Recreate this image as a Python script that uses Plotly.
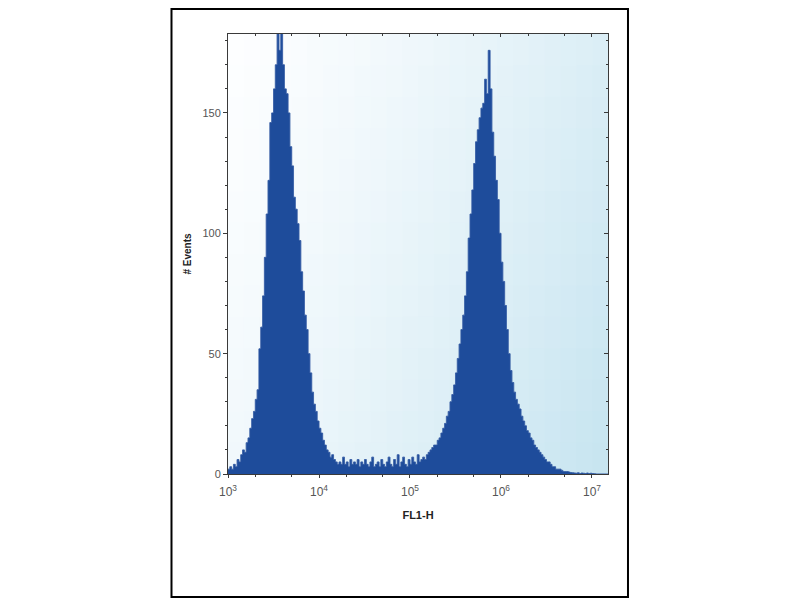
import numpy as np
import plotly.graph_objects as go

# ---------------- data ----------------
# histogram counts in log-spaced bins, 0.02 decade wide, starting at 10^3
bin_start_exp = 3.0
bin_step_exp = 0.02
counts = [
    2, 3, 2, 4, 3, 6, 5, 8, 10, 9,
    13, 15, 19, 23, 26, 31, 35, 52, 61, 74,
    90, 108, 122, 146, 150, 160, 170, 190, 176, 188,
    170, 160, 158, 150, 136, 128, 115, 110, 104, 97,
    84, 76, 66, 60, 50, 42, 34, 29, 26, 22,
    19, 17, 14, 12, 10, 9, 7, 8, 6, 5,
    4, 5, 4, 7, 4, 5, 3, 6, 4, 5,
    4, 6, 3, 5, 4, 6, 4, 3, 5, 7,
    3, 4, 5, 3, 6, 4, 3, 5, 7, 4,
    3, 6, 4, 8, 3, 5, 7, 4, 3, 6,
    4, 7, 5, 4, 8, 5, 6, 7, 6, 8,
    9, 10, 11, 12, 12, 14, 15, 17, 19, 21,
    24, 26, 30, 33, 37, 42, 48, 54, 60, 66,
    74, 84, 98, 108, 118, 129, 138, 143, 148, 152,
    154, 164, 158, 176, 160, 142, 132, 122, 114, 100,
    88, 80, 70, 60, 50, 43, 38, 34, 31, 29,
    27, 24, 22, 20, 18, 17, 15, 14, 12, 11,
    10, 9, 8, 7, 6, 5, 5, 4, 3, 3,
    2, 2, 2, 1.5, 1, 1, 1, 0.8, 0.6, 0.5,
    0.4, 0.3, 0.5, 0.2, 0.4, 0.3, 0.2, 0.4, 0.2, 0.3,
    0.2, 0.1, 0, 0, 0, 0, 0, 0, 0,
]
x_tick_exps = [3, 4, 5, 6, 7]
x_tick_labels = ["10<sup>3</sup>", "10<sup>4</sup>", "10<sup>5</sup>",
                 "10<sup>6</sup>", "10<sup>7</sup>"]
y_tick_vals = [0, 50, 100, 150]
x_title = "FL1-H"
y_title = "# Events"

# ---------------- build step histogram ----------------
n = len(counts)
edges = 10 ** (bin_start_exp + bin_step_exp * np.arange(n + 1))
xs = list(edges)
ys = list(counts) + [counts[-1]]

X_RANGE = [3.0, 7.176]
Y_RANGE = [0, 182.8]
FILL = "#1e4c9b"
AX = "#3a3a3a"
FONT = "Liberation Sans, Arial, sans-serif"

fig = go.Figure()
fig.add_trace(go.Scatter(
    x=xs, y=ys, mode="lines", line=dict(shape="hv", width=0.6, color=FILL),
    fill="tozeroy", fillcolor=FILL, hoverinfo="skip", showlegend=False,
))
fig.add_trace(go.Scatter(
    x=xs, y=ys, mode="lines", line=dict(shape="hv", width=0.5, color="#3f62a8"),
    xaxis="x2", yaxis="y2", hoverinfo="skip", showlegend=False,
))

# ---------------- background gradient (style only) ----------------
shapes = []
NU, NV = 24, 14
c0 = np.array([253, 254, 255])
c1 = np.array([198, 228, 240])
for i in range(NU):
    for j in range(NV):
        u = (i + 0.5) / NU
        v = (j + 0.5) / NV
        t = (0.7 * u + 0.3 * v) ** 1.3
        c = (c0 + (c1 - c0) * t).round().astype(int)
        shapes.append(dict(
            type="rect", xref="x domain", yref="y domain", layer="below",
            x0=i / NU, x1=(i + 1) / NU + 0.002,
            y0=1 - (j + 1) / NV - 0.002, y1=1 - j / NV,
            fillcolor=f"rgb({c[0]},{c[1]},{c[2]})", line=dict(width=0),
        ))
# outer frame
shapes.append(dict(type="rect", xref="paper", yref="paper",
                   x0=-0.1487, x1=1.0526, y0=-0.2795, y1=1.0568,
                   line=dict(color="black", width=2), layer="above"))

tickfont = dict(family=FONT, size=11, color="#555555")
xtickfont = dict(family=FONT, size=12, color="#555555")
fig.update_layout(
    width=800, height=600,
    margin=dict(l=220, r=200, t=26, b=134),
    paper_bgcolor="white", plot_bgcolor="white",
    shapes=shapes,
    xaxis=dict(
        type="log", range=X_RANGE, tickvals=[10 ** e for e in x_tick_exps],
        ticktext=x_tick_labels, showgrid=False, zeroline=False,
        showline=True, linecolor=AX, linewidth=1,
        ticks="outside", ticklen=3, tickcolor=AX, tickfont=xtickfont,
        ticklabelstandoff=4,
        minor=dict(ticks="outside", ticklen=2, tickcolor=AX, dtick="D2", showgrid=False),
        title=dict(text=f"<b>{x_title}</b>", font=dict(family=FONT, size=11, color="#222"), standoff=12),
    ),
    yaxis=dict(
        range=Y_RANGE, tickvals=y_tick_vals, showgrid=False, zeroline=False,
        showline=True, linecolor=AX, linewidth=1,
        ticks="outside", ticklen=4, tickcolor=AX, tickfont=tickfont,
        minor=dict(ticks="outside", ticklen=2, tickcolor=AX, dtick=10, showgrid=False),
        title=dict(text=f"<b>{y_title}</b>", font=dict(family=FONT, size=10, color="#222"), standoff=8),
    ),
    xaxis2=dict(
        type="log", range=X_RANGE, overlaying="x", side="top", anchor="y2",
        tickvals=[10 ** e for e in x_tick_exps], showticklabels=False,
        showgrid=False, zeroline=False, showline=True, linecolor=AX, linewidth=1,
        ticks="inside", ticklen=3, tickcolor=AX,
        minor=dict(ticks="inside", ticklen=2, tickcolor=AX, dtick="D2", showgrid=False),
    ),
    yaxis2=dict(
        range=Y_RANGE, overlaying="y", side="right", anchor="x2",
        tickvals=y_tick_vals, showticklabels=False,
        showgrid=False, zeroline=False, showline=True, linecolor=AX, linewidth=1,
        ticks="inside", ticklen=4, tickcolor=AX,
        minor=dict(ticks="inside", ticklen=2, tickcolor=AX, dtick=10, showgrid=False),
    ),
)

fig.write_html("out.html")
